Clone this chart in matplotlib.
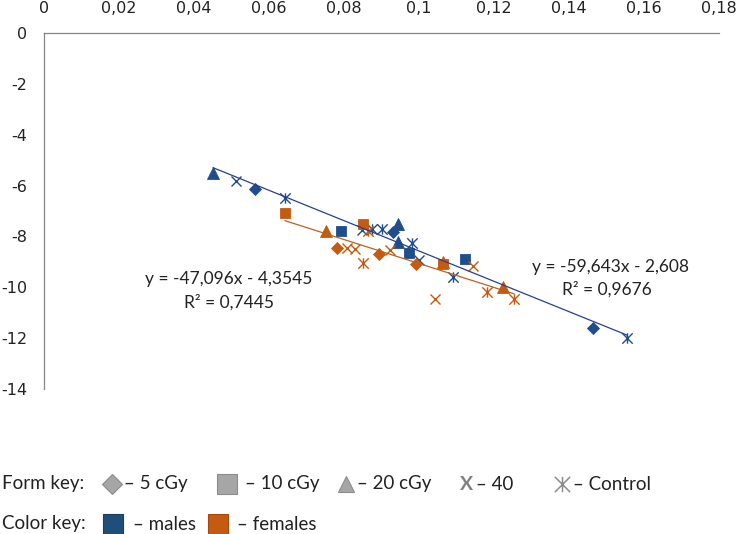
import numpy as np
import matplotlib
matplotlib.use('Agg')
import matplotlib.pyplot as plt
import matplotlib.ticker as mticker
from matplotlib.path import Path
from matplotlib.lines import Line2D

plt.rcParams['font.family'] = 'Lato'

# ==================== 1. Data ====================
# males
m5_x = [0.0563, 0.0931, 0.1464]
m5_y = [-6.13, -7.83, -11.60]
m10_x = [0.0792, 0.0973, 0.1123]
m10_y = [-7.79, -8.65, -8.89]
m20_x = [0.0451, 0.0944, 0.0944]
m20_y = [-5.51, -7.51, -8.22]
m40_x = [0.0512, 0.0848, 0.1000]
m40_y = [-5.82, -7.75, -8.93]
mc_x = [0.0643, 0.0875, 0.0901, 0.0981, 0.1091, 0.1555]
mc_y = [-6.49, -7.71, -7.71, -8.26, -9.59, -11.99]

# females
f5_x = [0.0781, 0.0893, 0.0992]
f5_y = [-8.45, -8.69, -9.08]
f10_x = [0.0643, 0.0851, 0.1064]
f10_y = [-7.08, -7.51, -9.08]
f20_x = [0.0752, 0.1064, 0.1224]
f20_y = [-7.79, -9.00, -9.99]
f40_x = [0.0808, 0.0829, 0.0923, 0.1144, 0.1043]
f40_y = [-8.45, -8.49, -8.53, -9.16, -10.46]
fc_x = [0.0851, 0.0864, 0.1181, 0.1253]
fc_y = [-9.04, -7.79, -10.18, -10.46]

# trend lines (from the chart labels)
m_slope, m_icpt, m_r2 = -59.643, -2.608, 0.9676
f_slope, f_icpt, f_r2 = -47.096, -4.3545, 0.7445

x_ticks = np.arange(0, 0.181, 0.02)
y_ticks = np.arange(-14, 0.1, 2)

# ==================== 2. Style ====================
c_male = '#1f4e8c'
c_male_line = '#2b3f8c'
c_female = '#c55a11'
c_female_line = '#b8621f'
c_key = '#a6a6a6'
c_key_edge = '#8c8c8c'
c_axis = '#868686'

# asterisk marker as in Excel: X plus vertical bar
ast = Path([(0, -1), (0, 1), (-1, -1), (1, 1), (-1, 1), (1, -1)],
           [Path.MOVETO, Path.LINETO, Path.MOVETO, Path.LINETO, Path.MOVETO, Path.LINETO])

fig = plt.figure(figsize=(7.4, 5.34), dpi=100)
ax = fig.add_axes([44 / 740, 1 - 389 / 534, 675 / 740, 356 / 534])

def draw_group(xs, ys, marker, color, ms, filled=True):
    if filled:
        ax.plot(xs, ys, linestyle='none', marker=marker, ms=ms,
                markerfacecolor=color, markeredgecolor=color, markeredgewidth=0.6, zorder=3)
    else:
        ax.plot(xs, ys, linestyle='none', marker=marker, ms=ms,
                markerfacecolor='none', markeredgecolor=color, markeredgewidth=1.0, zorder=3)

for col, groups in [(c_male, [(m5_x, m5_y), (m10_x, m10_y), (m20_x, m20_y), (m40_x, m40_y), (mc_x, mc_y)]),
                    (c_female, [(f5_x, f5_y), (f10_x, f10_y), (f20_x, f20_y), (f40_x, f40_y), (fc_x, fc_y)])]:
    draw_group(*groups[0], 'D', col, 6.5)
    draw_group(*groups[1], 's', col, 7.8)
    draw_group(*groups[2], '^', col, 8)
    draw_group(*groups[3], 'x', col, 7.5, filled=False)
    draw_group(*groups[4], ast, col, 7.5, filled=False)

m_all_x = m5_x + m10_x + m20_x + m40_x + mc_x
f_all_x = f5_x + f10_x + f20_x + f40_x + fc_x
mx = np.array([min(m_all_x), max(m_all_x)])
fx = np.array([min(f_all_x), max(f_all_x)])
ax.plot(mx, m_slope * mx + m_icpt, color=c_male_line, lw=0.9, zorder=4)
ax.plot(fx, f_slope * fx + f_icpt, color=c_female_line, lw=0.9, zorder=4)

def num(v):
    s = f'{v:g}'
    return '0' if abs(v) < 1e-10 else s.replace('.', ',')

eq_kw = dict(ha='center', va='center', fontsize=12.5, color='#222222')
ax.text(0.0493, -9.67, f'y = {num(f_slope)}x - {num(-f_icpt)}', **eq_kw)
ax.text(0.0493, -10.58, f'R² = {num(f_r2)}', **eq_kw)
ax.text(0.1512, -9.20, f'y = {num(m_slope)}x - {num(-m_icpt)}', **eq_kw)
ax.text(0.1500, -10.07, f'R² = {num(m_r2)}', **eq_kw)

# ==================== 3. Axes ====================
ax.set_xlim(0, 0.18)
ax.set_ylim(-14, 0)
ax.set_xticks(x_ticks)
ax.set_yticks(y_ticks)
ax.xaxis.set_major_formatter(mticker.FuncFormatter(lambda v, p: num(round(v, 4))))
ax.yaxis.set_major_formatter(mticker.FuncFormatter(lambda v, p: num(round(v, 4))))
ax.xaxis.tick_top()
ax.tick_params(axis='both', length=0, labelsize=11.5, colors='#222222', pad=12)
for lab in ax.get_xticklabels() + ax.get_yticklabels():
    lab.set_fontfamily('DejaVu Sans')
ax.spines['right'].set_visible(False)
ax.spines['bottom'].set_visible(False)
ax.spines['top'].set_color(c_axis)
ax.spines['left'].set_color(c_axis)
ax.spines['top'].set_linewidth(0.9)
ax.spines['left'].set_linewidth(0.9)

# ==================== 4. Keys below the chart ====================
def fx_(px):
    return px / 740

def fy_(py):
    return 1 - py / 534

def key_marker(px, py, marker, face, edge, ms, mew=0.8):
    fig.add_artist(Line2D([fx_(px)], [fy_(py)], transform=fig.transFigure, linestyle='none',
                          marker=marker, ms=ms, markerfacecolor=face, markeredgecolor=edge,
                          markeredgewidth=mew))

key_kw = dict(fontsize=13.5, color='#222222', va='center', ha='left')
r1, r2 = 484, 524
fig.text(fx_(2), fy_(r1), 'Form key:', **key_kw)
key_marker(112, r1, 'D', c_key, c_key_edge, 10.5)
fig.text(fx_(124), fy_(r1), '– 5 cGy', **key_kw)
key_marker(227, r1, 's', c_key, c_key_edge, 14)
fig.text(fx_(245), fy_(r1), '– 10 cGy', **key_kw)
key_marker(346, r1, '^', c_key, c_key_edge, 12)
fig.text(fx_(357), fy_(r1), '– 20 cGy', **key_kw)
fig.text(fx_(467), fy_(r1), 'X', fontsize=14, fontweight='bold', color='#808080', va='center', ha='center')
fig.text(fx_(476), fy_(r1), '– 40', **key_kw)
key_marker(562, r1, ast, 'none', c_key_edge, 11, mew=1.1)
fig.text(fx_(573), fy_(r1), '– Control', **key_kw)

fig.text(fx_(2), fy_(r2), 'Color key:', **key_kw)
key_marker(113, r2, 's', '#1f4e79', '#1a3f63', 14)
fig.text(fx_(133), fy_(r2), '– males', **key_kw)
key_marker(218, r2, 's', c_female, '#a54a0e', 14)
fig.text(fx_(237), fy_(r2), '– females', **key_kw)

fig.savefig('out.png', dpi=100)
